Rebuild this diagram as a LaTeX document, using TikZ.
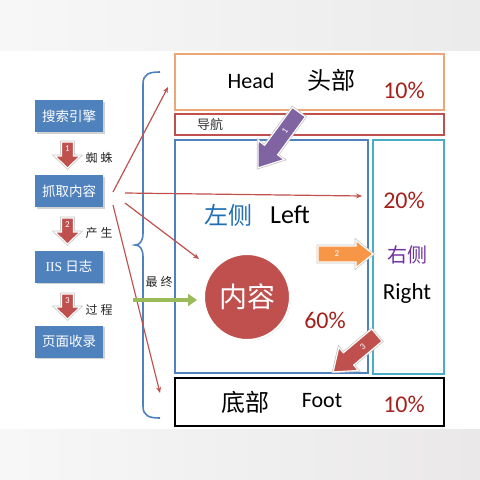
\documentclass[tikz,border=0pt]{standalone}
\usepackage{fontspec}
\setmainfont{Carlito}
\newfontfamily\cjk{Noto Sans CJK SC}
\newfontfamily\iisfont{Liberation Serif}
\usetikzlibrary{arrows.meta,shadows}
\definecolor{boxblue}{HTML}{4F81BD}
\definecolor{lnred}{HTML}{C0504D}
\definecolor{pctred}{HTML}{A5211C}
\definecolor{orangeB}{HTML}{F79646}
\definecolor{headorange}{HTML}{EDA67A}
\definecolor{tealB}{HTML}{4BACC6}
\definecolor{greenB}{HTML}{9BBB59}
\definecolor{purpleB}{HTML}{8064A2}
\definecolor{leftblue}{HTML}{1F6FB5}
\definecolor{rightpurple}{HTML}{7030A0}
\newcommand\myfs[1]{\fontsize{#1}{#1}\selectfont}
% block arrow: center, angle, length, shaft width, head width, head length, colour, label, label rotation
\newcommand\barrow[9]{%
  \begin{scope}[shift={(#1)},rotate=#2]
    \path[fill=#7, draw=white, line width=1.1pt, preaction={draw=black!22, line width=2.6pt}]
      ({-#3/2},{-#4/2}) -- ({#3/2-#6},{-#4/2}) -- ({#3/2-#6},{-#5/2}) -- ({#3/2},0)
      -- ({#3/2-#6},{#5/2}) -- ({#3/2-#6},{#4/2}) -- ({-#3/2},{#4/2}) -- cycle;
    \node[text=white, font=\myfs{9}, rotate=#9, inner sep=0pt] at ({-#6/2},0) {#8};
  \end{scope}}
\tikzset{
  bbox/.style={fill=boxblue, text=white, minimum width=68pt, minimum height=32pt,
    inner sep=0pt, font=\cjk\myfs{13.5},
    drop shadow={shadow xshift=1.5pt, shadow yshift=-1.5pt, opacity=.35}},
  frame/.style={draw, minimum width=269pt, inner sep=0pt},
  small/.style={font=\cjk\myfs{12}, text=black!85, inner sep=0pt},
  pct/.style={font=\myfs{24}, text=pctred, inner sep=0pt},
  redline/.style={draw=lnred, line width=1.2pt, -{Stealth[length=6pt,width=5pt]}},
}
\begin{document}
\begin{tikzpicture}[x=1pt,y=-1pt]
\useasboundingbox (0,0) rectangle (480,480);
\fill[white] (0,0) rectangle (480,480);
% background bands
\shade[left color=black!4, middle color=black!13, right color=red!8!black!7, shading angle=90] (0,0) rectangle (240,50);
\shade[left color=black!3, right color=red!6!black!8] (0,0) rectangle (480,50);
\shade[left color=black!3, middle color=black!20, right color=red!8!black!9] (0,429) rectangle (480,480);

% layout frames
\node[frame, draw=headorange, line width=1.5pt, minimum height=56pt] (head) at (309.5,82) {};
\node[frame, draw=lnred, line width=1.2pt, minimum height=21pt] (nav) at (309.5,124.5) {};
\node[draw=boxblue, line width=1.1pt, minimum width=193pt, minimum height=233pt, inner sep=0pt] (left) at (271.5,256.5) {};
\node[draw=tealB, line width=1.1pt, minimum width=71pt, minimum height=234pt, inner sep=0pt] (right) at (408.5,257) {};
\node[frame, draw=black, line width=1.5pt, minimum height=48pt] (foot) at (309.5,402) {};

% texts in frames
\node[font=\myfs{22}, inner sep=0pt] (headt) at (251,81) {Head};
\node[font=\cjk\myfs{24}, inner sep=0pt] (headc) at (331,80) {头部};
\node[pct] (headp) at (404,90) {10\%};
\node[font=\cjk\myfs{13}, text=black!80, inner sep=0pt] (navt) at (210,125) {导航};
\node[font=\cjk\myfs{24}, text=leftblue, inner sep=0pt] (leftc) at (228,215) {左侧};
\node[font=\myfs{26}, inner sep=0pt] (leftt) at (290,215) {Left};
\node[pct] (rightp) at (404,200) {20\%};
\node[pct] (leftp) at (325,320) {60\%};
\node[font=\cjk\myfs{20}, text=rightpurple, inner sep=0pt] (rightc) at (407,255) {右侧};
\node[font=\myfs{23}, inner sep=0pt] (rightt) at (407,293) {Right};
\node[font=\cjk\myfs{24}, inner sep=0pt] (footc) at (245,402) {底部};
\node[font=\myfs{22}, inner sep=0pt] (foott) at (322,401) {Foot};
\node[pct] (footp) at (404,404) {10\%};

% content circle
\node[circle, fill=lnred, draw=white, line width=2pt, minimum size=86pt, inner sep=0pt,
  text=white, font=\cjk\myfs{28},
  drop shadow={shadow xshift=1pt, shadow yshift=-1pt, opacity=.3}] (content) at (247,297) {内容};

% block arrows
\barrow{278.5,140}{233.8}{69}{16}{32}{22}{purpleB}{1}{53.8}
\barrow{345.5,254}{0}{55}{16}{27}{17}{orangeB}{2}{0}
\barrow{355,353.5}{220}{57}{16}{30}{20}{lnred}{3}{40}

% left column boxes
\node[bbox] (b1) at (69,116) {搜索引擎};
\node[bbox] (b2) at (69,191) {抓取内容};
\node[bbox] (b3) at (69,266.5) {{\iisfont IIS} 日志};
\node[bbox] (b4) at (69,341.5) {页面收录};

% small down arrows
\barrow{67.5,155}{-90}{26}{12}{25}{12}{lnred}{1}{0}
\barrow{67.5,231}{-90}{26}{12}{25}{12}{lnred}{2}{0}
\barrow{67.5,306.5}{-90}{25}{12}{25}{12}{lnred}{3}{0}
\node[small] (l1) at (99,158) {蜘\hspace{3pt}蛛};
\node[small] (l2) at (99,233) {产\hspace{3pt}生};
\node[small] (l3) at (99,310) {过\hspace{3pt}程};
\node[small] (l4) at (159,282) {最\hspace{3pt}终};

% brace
\draw[boxblue, line width=1.6pt]
  (160,72) .. controls (149,72) and (143,74) .. (143,84) -- (143,233)
  .. controls (143,241) and (140,245) .. (135,245)
  .. controls (140,245) and (143,249) .. (143,257) -- (143,406)
  .. controls (143,416) and (149,418) .. (160,418);

% red connectors
\coordinate (s1) at (113,192);
\coordinate (s2) at (125,193);
\coordinate (s3) at (125,203);
\coordinate (s4) at (113,205);
\coordinate (e1) at (168,87);
\coordinate (e2) at (362,196);
\coordinate (e3) at (199,259);
\coordinate (e4) at (160,393);
\draw[redline] (s1) -- (e1);
\draw[redline] (s2) -- (e2);
\draw[redline] (s3) -- (e3);
\draw[redline] (s4) -- (e4);

% green arrow
\coordinate (g1) at (133,300);
\coordinate (g2) at (197,300);
\draw[draw=greenB, line width=4pt, -{Triangle[length=9pt,width=12pt]}] (g1) -- (g2);
\end{tikzpicture}
\end{document}
